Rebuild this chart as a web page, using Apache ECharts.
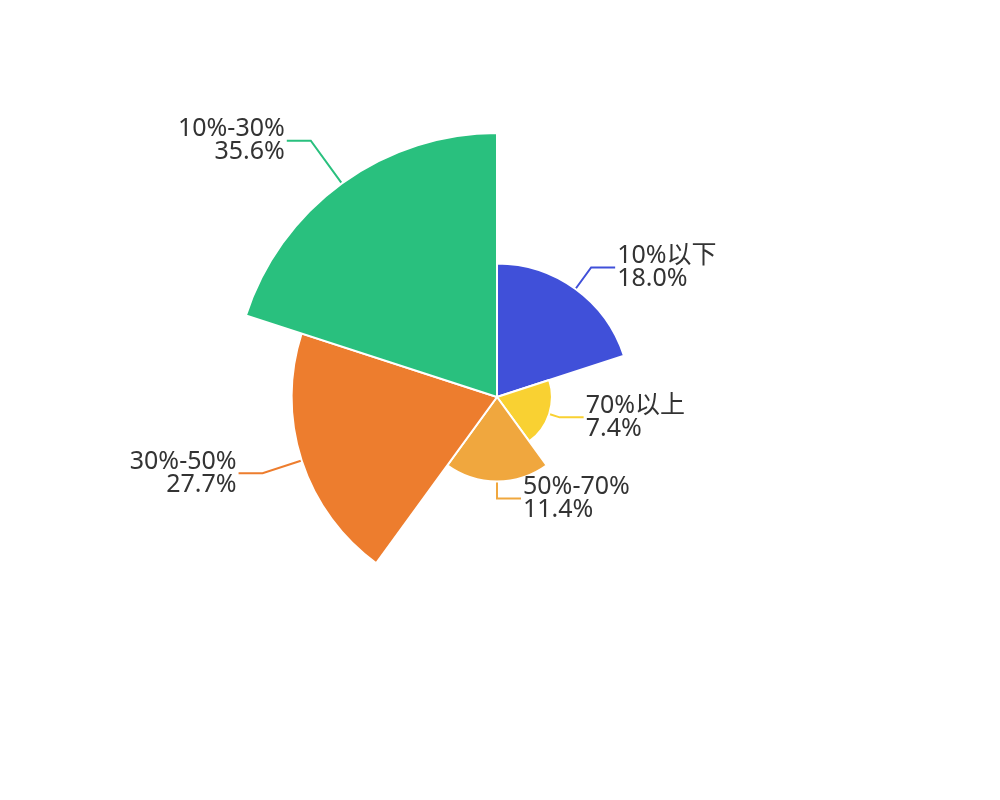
<!DOCTYPE html>
<html><head><meta charset="utf-8">
<script src="https://cdn.jsdelivr.net/npm/echarts@6/dist/echarts.min.js"></script>
<style>html,body{margin:0;padding:0;background:#fff}#c{width:1000px;height:800px}</style>
</head><body><div id="c"></div>
<script>
const categories = ['10%以下', '70%以上', '50%-70%', '30%-50%', '10%-30%'];
const values = [18.0, 7.4, 11.4, 27.7, 35.6];
const colors = ['#4050D9', '#F9D132', '#F0A73E', '#ED7D2E', '#29C07E'];

const R = 264;
const maxV = Math.max(...values);
const data = categories.map((name, i) => {
  const ri = R * values[i] / maxV;
  return {
    name: name,
    value: values[i],
    itemStyle: { color: colors[i] },
    labelLine: { length: 1.2 * ri - R }
  };
});

const chart = echarts.init(document.getElementById('c'));
chart.setOption({
  animation: false,
  series: [{
    type: 'pie',
    roseType: 'area',
    center: [497, 397],
    radius: [0, R],
    startAngle: 90,
    clockwise: true,
    avoidLabelOverlap: false,
    itemStyle: { borderColor: '#fff', borderWidth: 2 },
    label: {
      show: true,
      position: 'outside',
      formatter: p => p.name + '\n' + p.value.toFixed(1) + '%',
      fontFamily: "'Noto Sans', 'Noto Sans CJK SC', sans-serif",
      fontSize: 25,
      lineHeight: 23,
      color: '#333',
      padding: [4, 0, 0, 0],
      distanceToLabelLine: 2
    },
    labelLine: { show: true, length2: 24, smooth: false, lineStyle: { width: 2 } },
    data: data
  }]
});
</script></body></html>
